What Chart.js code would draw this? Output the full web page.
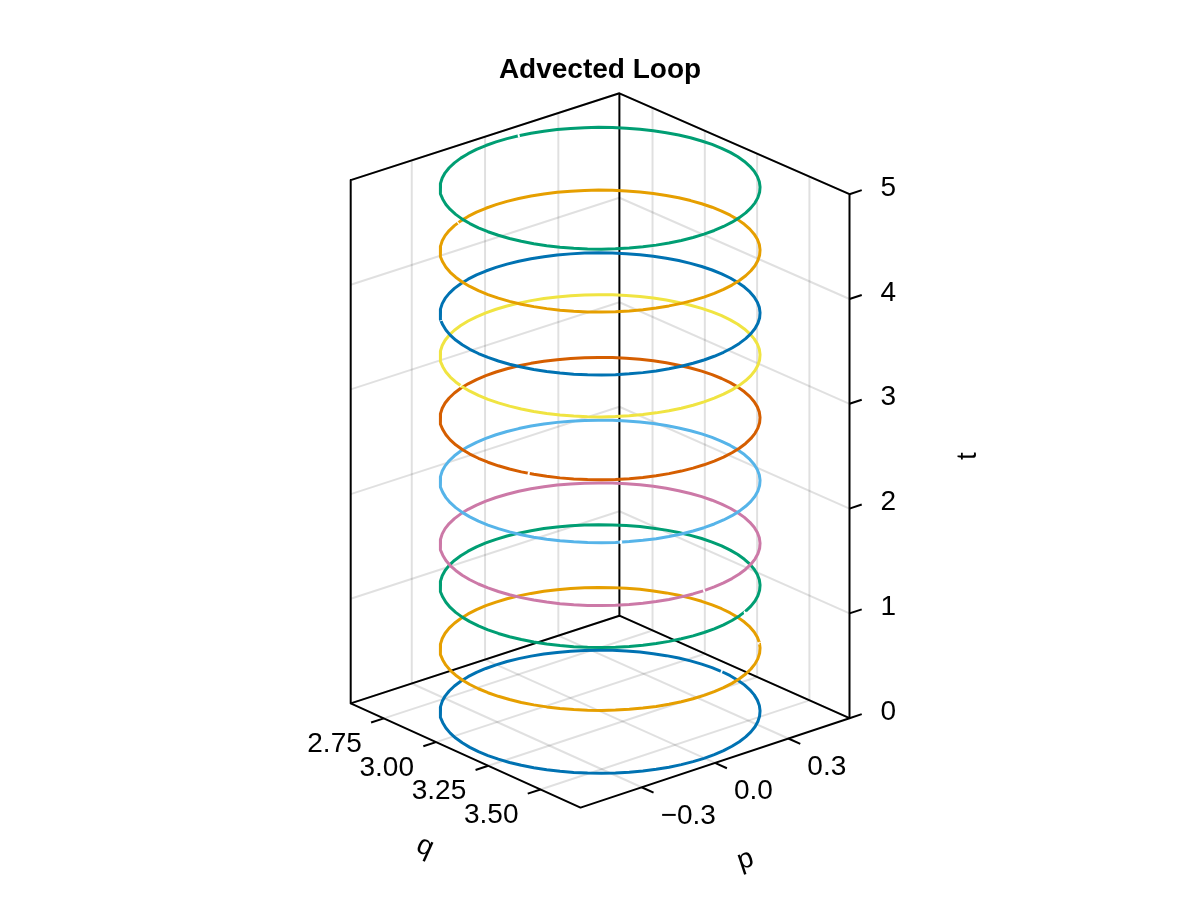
<!DOCTYPE html>
<html lang="en">
<head>
	<meta charset="UTF-8">
	<title>Advected Loop</title>
	<script src="https://cdn.jsdelivr.net/npm/chart.js"></script>
	<style>
		html, body { margin: 0; padding: 0; background: #fff; }
		canvas { display: block; }
	</style>
</head>
<body>
	<canvas id="myChart" width="1200" height="900"></canvas>
	<script type="text/javascript">
		// axis limits and ticks
		var qLim = [2.5916, 3.6916];
		var pLim = [-0.55, 0.55];
		var tLim = [0, 5];
		var qTicks = [2.75, 3.00, 3.25, 3.50];
		var pTicks = [-0.3, 0.0, 0.3];
		var tTicks = [0, 1, 2, 3, 4, 5];
		var qTickLabels = ['2.75', '3.00', '3.25', '3.50'];
		var pTickLabels = ['\u22120.3', '0.0', '0.3'];
		var tTickLabels = ['0', '1', '2', '3', '4', '5'];

		// one loop in the (q, p) plane
		var loopQ = [3.6412, 3.6393, 3.6336, 3.6242, 3.6112, 3.5946, 3.5745, 3.5513, 3.5248, 3.4955, 3.4635, 3.4291,
			3.3925, 3.3539, 3.3138, 3.2725, 3.2301, 3.1871, 3.1437, 3.1003, 3.0573, 3.0149, 2.9736, 2.9335,
			2.8949, 2.8583, 2.8239, 2.7919, 2.7626, 2.7361, 2.7129, 2.6928, 2.6762, 2.6632, 2.6538, 2.6481,
			2.6462, 2.6481, 2.6538, 2.6632, 2.6762, 2.6928, 2.7129, 2.7361, 2.7626, 2.7919, 2.8239, 2.8583,
			2.8949, 2.9335, 2.9736, 3.0149, 3.0573, 3.1003, 3.1437, 3.1871, 3.2301, 3.2725, 3.3138, 3.3539,
			3.3925, 3.4291, 3.4635, 3.4955, 3.5248, 3.5513, 3.5745, 3.5946, 3.6112, 3.6242, 3.6336, 3.6393, 3.6412];
		var loopP = [-0.0018, 0.0416, 0.0846, 0.1270, 0.1683, 0.2084, 0.2470, 0.2836, 0.3180, 0.3500, 0.3793, 0.4058,
			0.4290, 0.4491, 0.4657, 0.4787, 0.4881, 0.4938, 0.4957, 0.4938, 0.4881, 0.4787, 0.4657, 0.4491,
			0.4290, 0.4058, 0.3793, 0.3500, 0.3180, 0.2836, 0.2470, 0.2084, 0.1683, 0.1270, 0.0846, 0.0416,
			-0.0018, -0.0452, -0.0882, -0.1306, -0.1719, -0.2120, -0.2506, -0.2872, -0.3216, -0.3536, -0.3829, -0.4094,
			-0.4326, -0.4527, -0.4693, -0.4823, -0.4917, -0.4974, -0.4993, -0.4974, -0.4917, -0.4823, -0.4693, -0.4527,
			-0.4326, -0.4094, -0.3829, -0.3536, -0.3216, -0.2872, -0.2506, -0.2120, -0.1719, -0.1306, -0.0882, -0.0452, -0.0018];

		// time of each ring and its colour
		var ringTimes = [0, 0.6, 1.2, 1.6, 2.2, 2.8, 3.4, 3.8, 4.4, 5.0];
		var ringColors = ['#0072B2', '#E69F00', '#009E73', '#CC79A7', '#56B4E9', '#D55E00', '#F0E442', '#0072B2', '#E69F00', '#009E73'];

		// small white break in each ring where the line starts and ends
		var seamQ = [[3.1472, 3.1402], [3.4320, 3.4262], [3.5996, 3.5968], [3.6412, 3.6412], [3.5590, 3.5628],
			[3.3349, 3.3413], [3.0454, 3.0522], [2.8626, 2.8684], [2.6811, 2.6837], [2.6544, 2.6532]];
		var seamP = [[0.4957, 0.4957], [0.4038, 0.4078], [0.1973, 0.2037], [-0.0053, 0.0017], [-0.2756, -0.2698],
			[-0.4612, -0.4584], [-0.4894, -0.4908], [-0.4122, -0.4162], [-0.1850, -0.1914], [0.0880, 0.0812]];

		// screen corners of the box floor: x, y, height of the box at that corner
		var cornerLeft = [350.7, 703.4, 523.3];   // qmin, pmin
		var cornerFront = [580.5, 807.6, 524.4];  // qmax, pmin
		var cornerRight = [849.5, 718.2, 524.0];  // qmax, pmax
		var cornerBack = [619.4, 615.7, 522.4];   // qmin, pmax

		function project(q, p, t) {
			var u = (q - qLim[0]) / (qLim[1] - qLim[0]);
			var v = (p - pLim[0]) / (pLim[1] - pLim[0]);
			var c = [0, 1, 2].map(function(i) {
				return cornerLeft[i] * (1 - u) * (1 - v) + cornerFront[i] * u * (1 - v) + cornerRight[i] * u * v + cornerBack[i] * (1 - u) * v;
			});
			return { x: c[0], y: c[1] - c[2] * (t - tLim[0]) / (tLim[1] - tLim[0]) };
		}

		function lineSet(points, color, width) {
			return { data: points, showLine: true, borderColor: color, borderWidth: width, pointRadius: 0, tension: 0, fill: false, borderCapStyle: 'butt', borderJoinStyle: 'round' };
		}

		var gridColor = 'rgba(0,0,0,0.12)';
		var datasets = [];

		// grid on the two back walls and the floor
		pTicks.forEach(function(p) {
			datasets.push(lineSet([project(qLim[0], p, tLim[0]), project(qLim[0], p, tLim[1])], gridColor, 2));
			datasets.push(lineSet([project(qLim[0], p, tLim[0]), project(qLim[1], p, tLim[0])], gridColor, 2));
		});
		qTicks.forEach(function(q) {
			datasets.push(lineSet([project(q, pLim[1], tLim[0]), project(q, pLim[1], tLim[1])], gridColor, 2));
			datasets.push(lineSet([project(q, pLim[0], tLim[0]), project(q, pLim[1], tLim[0])], gridColor, 2));
		});
		tTicks.forEach(function(t) {
			datasets.push(lineSet([project(qLim[0], pLim[0], t), project(qLim[0], pLim[1], t), project(qLim[1], pLim[1], t)], gridColor, 2));
		});

		// box frame
		datasets.push(lineSet([
			project(qLim[0], pLim[0], tLim[1]), project(qLim[0], pLim[0], tLim[0]), project(qLim[1], pLim[0], tLim[0]),
			project(qLim[1], pLim[1], tLim[0]), project(qLim[1], pLim[1], tLim[1]), project(qLim[0], pLim[1], tLim[1]),
			project(qLim[0], pLim[0], tLim[1])
		], '#000', 2));
		datasets.push(lineSet([project(qLim[0], pLim[0], tLim[0]), project(qLim[0], pLim[1], tLim[0]), project(qLim[1], pLim[1], tLim[0])], '#000', 2));
		datasets.push(lineSet([project(qLim[0], pLim[1], tLim[0]), project(qLim[0], pLim[1], tLim[1])], '#000', 2));

		// ticks
		qTicks.forEach(function(q) {
			datasets.push(lineSet([project(q, pLim[0], tLim[0]), project(q, pLim[0] - 0.052, tLim[0])], '#000', 2));
		});
		pTicks.forEach(function(p) {
			datasets.push(lineSet([project(qLim[1], p, tLim[0]), project(qLim[1] + 0.057, p, tLim[0])], '#000', 2));
		});
		tTicks.forEach(function(t) {
			datasets.push(lineSet([project(qLim[1], pLim[1], t), project(qLim[1], pLim[1] + 0.05, t)], '#000', 2));
		});

		// rings, each followed by its break
		ringTimes.forEach(function(t, i) {
			var pts = loopQ.map(function(q, k) { return project(q, loopP[k], t); });
			datasets.push(lineSet(pts, ringColors[i], 3));
			datasets.push(lineSet([project(seamQ[i][0], seamP[i][0], t), project(seamQ[i][1], seamP[i][1], t)], '#fff', 3.6));
		});

		// Chart.js paints the first dataset last
		datasets.reverse();

		var textPlugin = {
			id: 'axisText',
			afterDraw: function(chart) {
				var ctx = chart.ctx;
				ctx.save();
				ctx.fillStyle = '#000';
				ctx.textBaseline = 'alphabetic';

				ctx.font = 'bold 28px "Liberation Sans"';
				ctx.textAlign = 'center';
				ctx.fillText('Advected Loop', 600, 77.5);

				ctx.font = '28px "Liberation Sans"';
				ctx.textAlign = 'right';
				qTicks.forEach(function(q, i) {
					var a = project(q, pLim[0], tLim[0]);
					ctx.fillText(qTickLabels[i], a.x - 22, a.y + 33.5);
				});
				ctx.textAlign = 'left';
				pTicks.forEach(function(p, i) {
					var a = project(qLim[1], p, tLim[0]);
					ctx.fillText(pTickLabels[i], a.x + 19, a.y + 36.5);
				});
				tTicks.forEach(function(t, i) {
					var a = project(qLim[1], pLim[1], t);
					ctx.fillText(tTickLabels[i], a.x + 31, a.y + 1.5);
				});

				ctx.textAlign = 'center';
				ctx.textBaseline = 'middle';
				[['q', 425, 847, 24.4], ['p', 745.5, 860, -18.3], ['t', 968, 456, -90]].forEach(function(l) {
					ctx.save();
					ctx.translate(l[1], l[2]);
					ctx.rotate(l[3] * Math.PI / 180);
					ctx.fillText(l[0], 0, 0);
					ctx.restore();
				});
				ctx.restore();
			}
		};

		var myChart = new Chart(document.getElementById('myChart'), {
			type: 'scatter',
			data: { datasets: datasets },
			plugins: [textPlugin],
			options: {
				responsive: false,
				animation: false,
				devicePixelRatio: 1,
				layout: { padding: 0 },
				plugins: { legend: { display: false }, tooltip: { enabled: false } },
				scales: {
					x: { type: 'linear', display: false, min: 0, max: 1200 },
					y: { type: 'linear', display: false, min: 0, max: 900, reverse: true }
				}
			}
		});
	</script>
</body>
</html>
